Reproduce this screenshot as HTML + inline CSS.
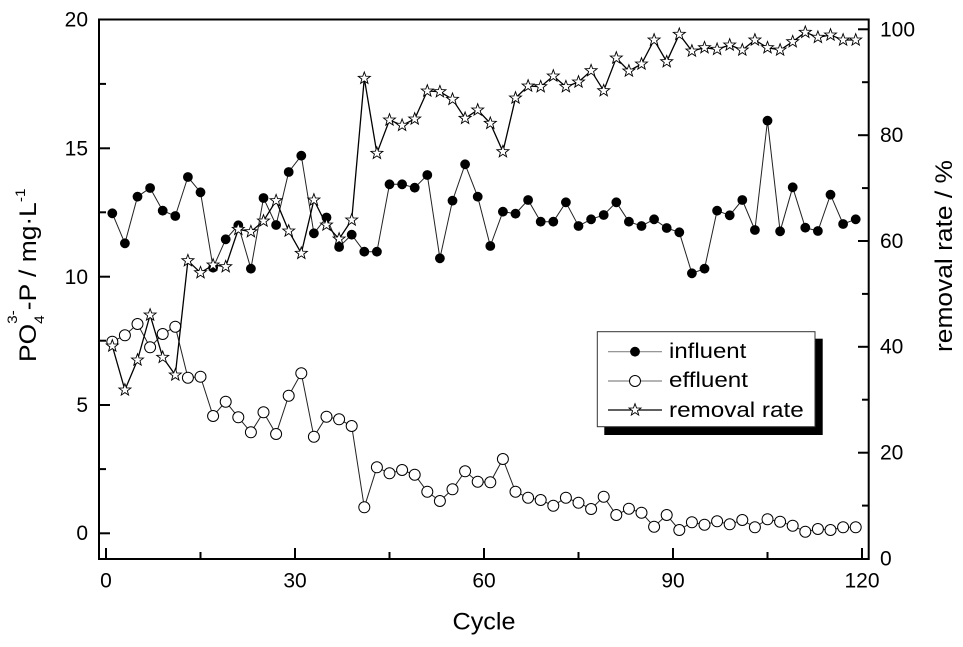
<!DOCTYPE html>
<html><head><meta charset="utf-8"><style>html,body{margin:0;padding:0;background:#fff}svg{display:block}</style></head>
<body>
<svg width="963" height="647" viewBox="0 0 963 647" xmlns="http://www.w3.org/2000/svg" font-family="'Liberation Sans', Arial, sans-serif">
<defs>
<marker id="mfc" viewBox="-8 -8 16 16" refX="0" refY="0" markerWidth="16" markerHeight="16" markerUnits="userSpaceOnUse" overflow="visible"><circle r="4.9" fill="#000"/></marker>
<marker id="moc" viewBox="-8 -8 16 16" refX="0" refY="0" markerWidth="16" markerHeight="16" markerUnits="userSpaceOnUse" overflow="visible"><circle r="5.5" fill="#fff" stroke="#000" stroke-width="1"/></marker>
<marker id="mst" viewBox="-8 -8 16 16" refX="0" refY="0" markerWidth="16" markerHeight="16" markerUnits="userSpaceOnUse" overflow="visible"><path d="M0,-6.3 L1.53,-2.1 L5.99,-1.95 L2.47,0.8 L3.7,5.1 L0,2.6 L-3.7,5.1 L-2.47,0.8 L-5.99,-1.95 L-1.53,-2.1 Z" fill="#fff" stroke="#000" stroke-width="0.9" stroke-linejoin="miter"/></marker>
</defs>
<rect width="963" height="647" fill="#fff"/>

<!-- frame -->
<rect x="99" y="19.5" width="769.7" height="539.5" fill="none" stroke="#000" stroke-width="2"/>

<!-- ticks -->
<g stroke="#000" stroke-width="2">
<line x1="99" y1="533.3" x2="110" y2="533.3"/>
<line x1="99" y1="405" x2="110" y2="405"/>
<line x1="99" y1="276.7" x2="110" y2="276.7"/>
<line x1="99" y1="148.3" x2="110" y2="148.3"/>
<line x1="99" y1="469.1" x2="106" y2="469.1"/>
<line x1="99" y1="340.7" x2="106" y2="340.7"/>
<line x1="99" y1="212.3" x2="106" y2="212.3"/>
<line x1="99" y1="83.9" x2="106" y2="83.9"/>

<line x1="868.7" y1="452.7" x2="858" y2="452.7"/>
<line x1="868.7" y1="346.8" x2="858" y2="346.8"/>
<line x1="868.7" y1="241" x2="858" y2="241"/>
<line x1="868.7" y1="135.2" x2="858" y2="135.2"/>
<line x1="868.7" y1="29.3" x2="858" y2="29.3"/>
<line x1="868.7" y1="505.6" x2="862" y2="505.6"/>
<line x1="868.7" y1="399.7" x2="862" y2="399.7"/>
<line x1="868.7" y1="293.9" x2="862" y2="293.9"/>
<line x1="868.7" y1="188.1" x2="862" y2="188.1"/>
<line x1="868.7" y1="82.2" x2="862" y2="82.2"/>

<line x1="106" y1="559" x2="106" y2="548"/>
<line x1="295" y1="559" x2="295" y2="548"/>
<line x1="484" y1="559" x2="484" y2="548"/>
<line x1="673" y1="559" x2="673" y2="548"/>
<line x1="862" y1="559" x2="862" y2="548"/>
<line x1="200.5" y1="559" x2="200.5" y2="552"/>
<line x1="389.5" y1="559" x2="389.5" y2="552"/>
<line x1="578.5" y1="559" x2="578.5" y2="552"/>
<line x1="767.5" y1="559" x2="767.5" y2="552"/>
</g>

<!-- tick labels -->
<g font-size="21" fill="#000">
<g text-anchor="end">
<text x="88" y="540">0</text>
<text x="88" y="412">5</text>
<text x="88" y="284">10</text>
<text x="88" y="155.5">15</text>
<text x="88" y="26.5">20</text>
</g>
<g text-anchor="start">
<text x="880" y="565.5">0</text>
<text x="880" y="459.5">20</text>
<text x="880" y="353.5">40</text>
<text x="880" y="248">60</text>
<text x="880" y="142">80</text>
<text x="880" y="36.3">100</text>
</g>
<g text-anchor="middle">
<text x="106" y="587.5">0</text>
<text x="295" y="587.5">30</text>
<text x="484" y="587.5">60</text>
<text x="673" y="587.5">90</text>
<text x="862" y="587.5">120</text>
</g>
</g>

<!-- axis titles -->
<text x="452.5" y="629.5" font-size="24" textLength="63" lengthAdjust="spacingAndGlyphs">Cycle</text>
<text transform="translate(952,352) rotate(-90)" font-size="24" textLength="192" lengthAdjust="spacingAndGlyphs">removal rate / %</text>
<text transform="translate(36,362) rotate(-90) scale(1.1,1)" font-size="24">PO<tspan font-size="14" dy="8">4</tspan><tspan font-size="14" dx="-7.8" dy="-27">3-</tspan><tspan font-size="24" dy="19">-P / mg·L</tspan><tspan font-size="14" dy="-11">-1</tspan></text>

<!-- series -->
<polyline fill="none" stroke="#222" stroke-width="1" marker-start="url(#mfc)" marker-mid="url(#mfc)" marker-end="url(#mfc)" points="112.3,213.3 124.9,243.3 137.5,196.7 150.1,188 162.7,210.7 175.3,216 187.9,177 200.5,192.3 213.1,267.7 225.7,239.3 238.3,225.3 250.9,268.7 263.5,198 276.1,225 288.7,172 301.3,155.7 313.9,233.3 326.5,217.5 339.1,247 351.7,234.7 364.3,251.7 376.9,251.7 389.5,184.3 402.1,184.3 414.7,187.7 427.3,175 439.9,258.3 452.5,200.7 465.1,164.3 477.7,196.7 490.3,246 502.9,211.7 515.5,213.7 528.1,200 540.7,221.7 553.3,221.7 565.9,202.3 578.5,226 591.1,219.3 603.7,215 616.3,202.3 628.9,221.7 641.5,226 654.1,219.3 666.7,228 679.3,232.3 691.9,273.3 704.5,268.7 717.1,210.7 729.7,215.3 742.3,200 754.9,230 767.5,120.7 780.1,231.3 792.7,187.3 805.3,227.7 817.9,231 830.5,194.7 843.1,224 855.7,219.3"/>

<polyline fill="none" stroke="#222" stroke-width="1" marker-start="url(#moc)" marker-mid="url(#moc)" marker-end="url(#moc)" points="112.3,341.7 124.9,335.3 137.5,324 150.1,347.3 162.7,334 175.3,326.7 187.9,377.7 200.5,376.7 213.1,416 225.7,401.7 238.3,417.3 250.9,432.3 263.5,412.3 276.1,434 288.7,395.7 301.3,373.3 313.9,436.7 326.5,416.7 339.1,419.3 351.7,426 364.3,507.3 376.9,467.3 389.5,473.3 402.1,470 414.7,474.7 427.3,491.7 439.9,501 452.5,489.3 465.1,471.3 477.7,481.7 490.3,482.3 502.9,459 515.5,491.7 528.1,497.7 540.7,500 553.3,505.7 565.9,497.7 578.5,502.7 591.1,509 603.7,496.7 616.3,515 628.9,508.7 641.5,512.7 654.1,526.7 666.7,515 679.3,530 691.9,522.3 704.5,524.7 717.1,521.3 729.7,524.3 742.3,520 754.9,527.3 767.5,519.3 780.1,521.7 792.7,525.7 805.3,531.7 817.9,529 830.5,530 843.1,527.3 855.7,527.3"/>

<polyline fill="none" stroke="#000" stroke-width="1.3" marker-start="url(#mst)" marker-mid="url(#mst)" marker-end="url(#mst)" points="112.3,346 124.9,390 137.5,360 150.1,315 162.7,357.3 175.3,375 187.9,260.7 200.5,272.7 213.1,265 225.7,266.7 238.3,229.3 250.9,231.7 263.5,221 276.1,200.7 288.7,231 301.3,253.3 313.9,200 326.5,225 339.1,239 351.7,220 364.3,78.3 376.9,153.3 389.5,120 402.1,125.3 414.7,119 427.3,91 439.9,91.7 452.5,99.3 465.1,118.3 477.7,110 490.3,123.3 502.9,151.7 515.5,98 528.1,86 540.7,86.7 553.3,76 565.9,86.7 578.5,82 591.1,70.7 603.7,90.7 616.3,58 628.9,71 641.5,64 654.1,40 666.7,61.7 679.3,34.3 691.9,51 704.5,47.7 717.1,49.3 729.7,45 742.3,50 754.9,40 767.5,47.7 780.1,50 792.7,41.7 805.3,32.3 817.9,37.3 830.5,35 843.1,40 855.7,40"/>

<!-- legend -->
<rect x="604.3" y="338.7" width="218.4" height="96.3" fill="#000"/>
<rect x="597.3" y="331.7" width="217.7" height="95" fill="#fff" stroke="#333" stroke-width="1"/>
<polyline fill="none" stroke="#888" stroke-width="1.2" marker-mid="url(#mfc)" points="608,351.7 635,351.7 662,351.7"/>
<polyline fill="none" stroke="#888" stroke-width="1.2" marker-mid="url(#moc)" points="608,381 635,381 662,381"/>
<polyline fill="none" stroke="#000" stroke-width="1.3" marker-mid="url(#mst)" points="608,410 635,410 662,410"/>
<g font-size="21" fill="#000">
<text x="669" y="358" textLength="77.3" lengthAdjust="spacingAndGlyphs">influent</text>
<text x="669" y="387" textLength="79" lengthAdjust="spacingAndGlyphs">effluent</text>
<text x="669" y="417" textLength="134.7" lengthAdjust="spacingAndGlyphs">removal rate</text>
</g>
</svg>
</body></html>
